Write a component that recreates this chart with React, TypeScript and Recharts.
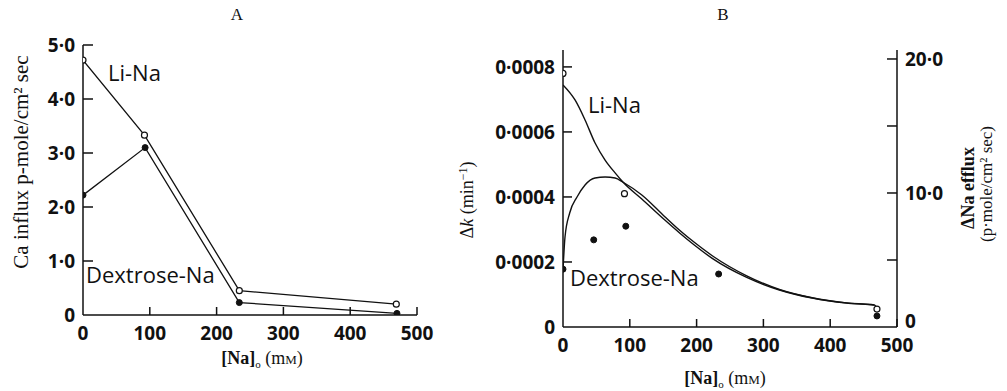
import React from 'react';
import { ComposedChart, Line, Scatter, XAxis, YAxis } from 'recharts';

// ---------- Panel A data ----------
const A_X_TICKS = [0, 100, 200, 300, 400, 500];
const A_Y_TICKS = [0, 1, 2, 3, 4, 5];
const A_Y_LABELS = ['0', '1·0', '2·0', '3·0', '4·0', '5·0'];
const A_LI_NA = [
  { x: 0, y: 4.72 },
  { x: 92, y: 3.33 },
  { x: 234, y: 0.45 },
  { x: 469, y: 0.2 },
];
const A_DEX_NA = [
  { x: 0, y: 2.22 },
  { x: 93, y: 3.1 },
  { x: 234, y: 0.23 },
  { x: 470, y: 0.03 },
];

// ---------- Panel B data ----------
const B_X_TICKS = [0, 100, 200, 300, 400, 500];
const B_LEFT_TICKS = [0, 0.0002, 0.0004, 0.0006, 0.0008];
const B_LEFT_LABELS = ['0', '0·0002', '0·0004', '0·0006', '0·0008'];
const B_RIGHT_TICKS = [0, 5, 10, 15, 20];
const B_RIGHT_LABELS = ['0', '', '10·0', '', '20·0'];
// Δk points (left axis)
const B_LI_NA_POINTS = [
  { x: 0, y: 0.00078 },
  { x: 92, y: 0.00041 },
  { x: 470, y: 0.000055 },
];
const B_DEX_NA_POINTS = [
  { x: 0, y: 0.000178 },
  { x: 46, y: 0.000268 },
  { x: 94, y: 0.00031 },
  { x: 233, y: 0.000163 },
  { x: 470, y: 0.000034 },
];
// ΔNa efflux curves (right axis)
const B_LI_NA_CURVE = [
  { x: 0, v: 18.06 },
  { x: 18, v: 16.94 },
  { x: 33, v: 15.45 },
  { x: 48, v: 13.73 },
  { x: 63, v: 12.46 },
  { x: 78, v: 11.5 },
  { x: 90, v: 10.8 },
  { x: 118, v: 9.55 },
  { x: 152, v: 8.0 },
  { x: 175, v: 7.0 },
  { x: 197, v: 6.1 },
  { x: 224, v: 5.1 },
  { x: 275, v: 3.7 },
  { x: 324, v: 2.76 },
  { x: 373, v: 2.16 },
  { x: 424, v: 1.79 },
  { x: 466, v: 1.64 },
  { x: 472, v: 1.27 },
];
const B_DEX_NA_CURVE = [
  { x: 0, v: 4.25 },
  { x: 3, v: 6.72 },
  { x: 10, v: 8.51 },
  { x: 21, v: 9.7 },
  { x: 33, v: 10.6 },
  { x: 48, v: 11.12 },
  { x: 63, v: 11.19 },
  { x: 78, v: 11.12 },
  { x: 90, v: 10.8 },
  { x: 118, v: 9.85 },
  { x: 152, v: 8.25 },
  { x: 175, v: 7.2 },
  { x: 197, v: 6.3 },
  { x: 224, v: 5.3 },
  { x: 275, v: 3.82 },
  { x: 324, v: 2.8 },
  { x: 373, v: 2.18 },
  { x: 424, v: 1.8 },
  { x: 466, v: 1.64 },
];

const SANS = '"Open Sans", sans-serif';
const SERIF = '"Liberation Serif", "DejaVu Serif", serif';
const TICK_FONT = { fontFamily: SANS, fontSize: 19, fontWeight: 700, fill: '#111' };

const makeLeftTick = (values: number[], labels: string[], len: number) => (props: any) => {
  const { x, y, payload } = props;
  const i = values.indexOf(payload.value);
  const lab = i >= 0 ? labels[i] : '';
  return (
    <g>
      {payload.value !== 0 && <line x1={x} x2={x + len} y1={y} y2={y} stroke="#111" strokeWidth={1.5} />}
      <text x={x - 8} y={y} dy="0.36em" textAnchor="end" {...TICK_FONT}>{lab}</text>
    </g>
  );
};

const makeRightTick = (values: number[], labels: string[], len: number) => (props: any) => {
  const { x, y, payload } = props;
  const i = values.indexOf(payload.value);
  const lab = i >= 0 ? labels[i] : '';
  return (
    <g>
      {payload.value !== 0 && <line x1={x - len} x2={x} y1={y} y2={y} stroke="#111" strokeWidth={1.5} />}
      <text x={x + 8} y={payload.value === 0 ? y - 6 : y} dy="0.36em" textAnchor="start" {...TICK_FONT}>{lab}</text>
    </g>
  );
};

const BottomTick = (props: any) => {
  const { x, y, payload } = props;
  return (
    <g>
      {payload.value !== 0 && <line x1={x} x2={x} y1={y - 8} y2={y} stroke="#111" strokeWidth={1.5} />}
      <text x={x} y={y + 18} dy="0.36em" textAnchor="middle" {...TICK_FONT}>{String(payload.value)}</text>
    </g>
  );
};

const OpenDot = (props: any) => {
  const { cx, cy } = props;
  if (cx == null || cy == null) return null;
  return <circle cx={cx} cy={cy} r={3} fill="#fff" stroke="#111" strokeWidth={1.2} />;
};
const FilledDot = (props: any) => {
  const { cx, cy } = props;
  if (cx == null || cy == null) return null;
  return <circle cx={cx} cy={cy} r={3} fill="#111" stroke="#111" strokeWidth={1} />;
};

const NaLabel = ({ x, y }: { x: number; y: number }) => (
  <text x={x} y={y} textAnchor="middle" fontFamily={SERIF} fontSize={18} fill="#111">
    <tspan fontWeight="bold">[Na]</tspan>
    <tspan dy={4} fontSize={11}>o</tspan>
    <tspan dy={-4}> (m</tspan>
    <tspan fontSize={13}>M</tspan>
    <tspan>)</tspan>
  </text>
);

export default function App() {
  return (
    <div style={{ position: 'absolute', left: 0, top: 0, width: 1007, height: 391, background: '#fff' }}>
      <div style={{ position: 'absolute', left: 0, top: 0 }}>
        <ComposedChart width={460} height={391} margin={{ top: 45, right: 43, bottom: 46, left: 0 }}>
          <XAxis
            type="number"
            dataKey="x"
            domain={[0, 500]}
            ticks={A_X_TICKS}
            tickSize={0}
            tickMargin={0}
            tick={BottomTick}
            axisLine={{ stroke: '#111', strokeWidth: 1.5 }}
            tickLine={false}
            height={30}
            allowDataOverflow
          />
          <YAxis
            type="number"
            dataKey="y"
            domain={[0, 5]}
            ticks={A_Y_TICKS}
            tickSize={0}
            tickMargin={0}
            tick={makeLeftTick(A_Y_TICKS, A_Y_LABELS, 10)}
            axisLine={{ stroke: '#111', strokeWidth: 1.5 }}
            tickLine={false}
            width={83}
            allowDataOverflow
          />
          <Line data={A_LI_NA} dataKey="y" type="linear" stroke="#111" strokeWidth={1.3} dot={<OpenDot />} isAnimationActive={false} />
          <Line data={A_DEX_NA} dataKey="y" type="linear" stroke="#111" strokeWidth={1.3} dot={<FilledDot />} isAnimationActive={false} />
        </ComposedChart>
      </div>
      <div style={{ position: 'absolute', left: 480, top: 0 }}>
        <ComposedChart width={527} height={391} margin={{ top: 50, right: 80, bottom: 34, left: 0 }}>
          <XAxis
            type="number"
            dataKey="x"
            domain={[0, 500]}
            ticks={B_X_TICKS}
            tickSize={0}
            tickMargin={0}
            tick={BottomTick}
            axisLine={{ stroke: '#111', strokeWidth: 1.5 }}
            tickLine={false}
            height={30}
            allowDataOverflow
          />
          <YAxis
            yAxisId="left"
            type="number"
            dataKey="y"
            domain={[0, 0.000852]}
            ticks={B_LEFT_TICKS}
            tickSize={0}
            tickMargin={0}
            tick={makeLeftTick(B_LEFT_TICKS, B_LEFT_LABELS, 9)}
            axisLine={{ stroke: '#111', strokeWidth: 1.5 }}
            tickLine={false}
            width={83}
            allowDataOverflow
          />
          <YAxis
            yAxisId="right"
            orientation="right"
            type="number"
            domain={[0, 20.67]}
            ticks={B_RIGHT_TICKS}
            tickSize={0}
            tickMargin={0}
            tick={makeRightTick(B_RIGHT_TICKS, B_RIGHT_LABELS, 10)}
            axisLine={{ stroke: '#111', strokeWidth: 1.5 }}
            tickLine={false}
            width={30}
            allowDataOverflow
          />
          <Line yAxisId="right" data={B_LI_NA_CURVE} dataKey="v" type="monotone" stroke="#111" strokeWidth={1.4} dot={false} isAnimationActive={false} />
          <Line yAxisId="right" data={B_DEX_NA_CURVE} dataKey="v" type="monotone" stroke="#111" strokeWidth={1.4} dot={false} isAnimationActive={false} />
          <Scatter yAxisId="left" data={B_LI_NA_POINTS} dataKey="y" shape={<OpenDot />} isAnimationActive={false} />
          <Scatter yAxisId="left" data={B_DEX_NA_POINTS} dataKey="y" shape={<FilledDot />} isAnimationActive={false} />
        </ComposedChart>
      </div>
      <svg width={1007} height={391} style={{ position: 'absolute', left: 0, top: 0, pointerEvents: 'none' }}>
        <text x={237} y={20} textAnchor="middle" fontFamily={SERIF} fontSize={17} fill="#111">A</text>
        <text x={723} y={20} textAnchor="middle" fontFamily={SERIF} fontSize={17} fill="#111">B</text>
        <text transform="translate(28,162) rotate(-90)" textAnchor="middle" fontFamily={SERIF} fontSize={21} fill="#111">
          Ca influx p-mole/cm² sec
        </text>
        <NaLabel x={262} y={364} />
        <NaLabel x={725} y={384} />
        <text transform="translate(473,200) rotate(-90)" textAnchor="middle" fontFamily={SERIF} fontSize={18} fill="#111">
          Δ<tspan fontStyle="italic">k</tspan> (min<tspan dy={-6} fontSize={12}>−1</tspan><tspan dy={6}>)</tspan>
        </text>
        <text transform="translate(974,188) rotate(-90)" textAnchor="middle" fontFamily={SERIF} fontSize={18} fontWeight="bold" fill="#111">
          ΔNa efflux
        </text>
        <text transform="translate(992,184) rotate(-90)" textAnchor="middle" fontFamily={SERIF} fontSize={17} fill="#111">
          (p·mole/cm² sec)
        </text>
        <text x={108} y={81} fontFamily={SANS} fontSize={22} fontWeight={500} fill="#111">Li-Na</text>
        <text x={86} y={283} fontFamily={SANS} fontSize={22} fontWeight={500} fill="#111">Dextrose-Na</text>
        <text x={588} y={113} fontFamily={SANS} fontSize={22} fontWeight={500} fill="#111">Li-Na</text>
        <text x={570} y={286} fontFamily={SANS} fontSize={22} fontWeight={500} fill="#111">Dextrose-Na</text>
      </svg>
    </div>
  );
}
